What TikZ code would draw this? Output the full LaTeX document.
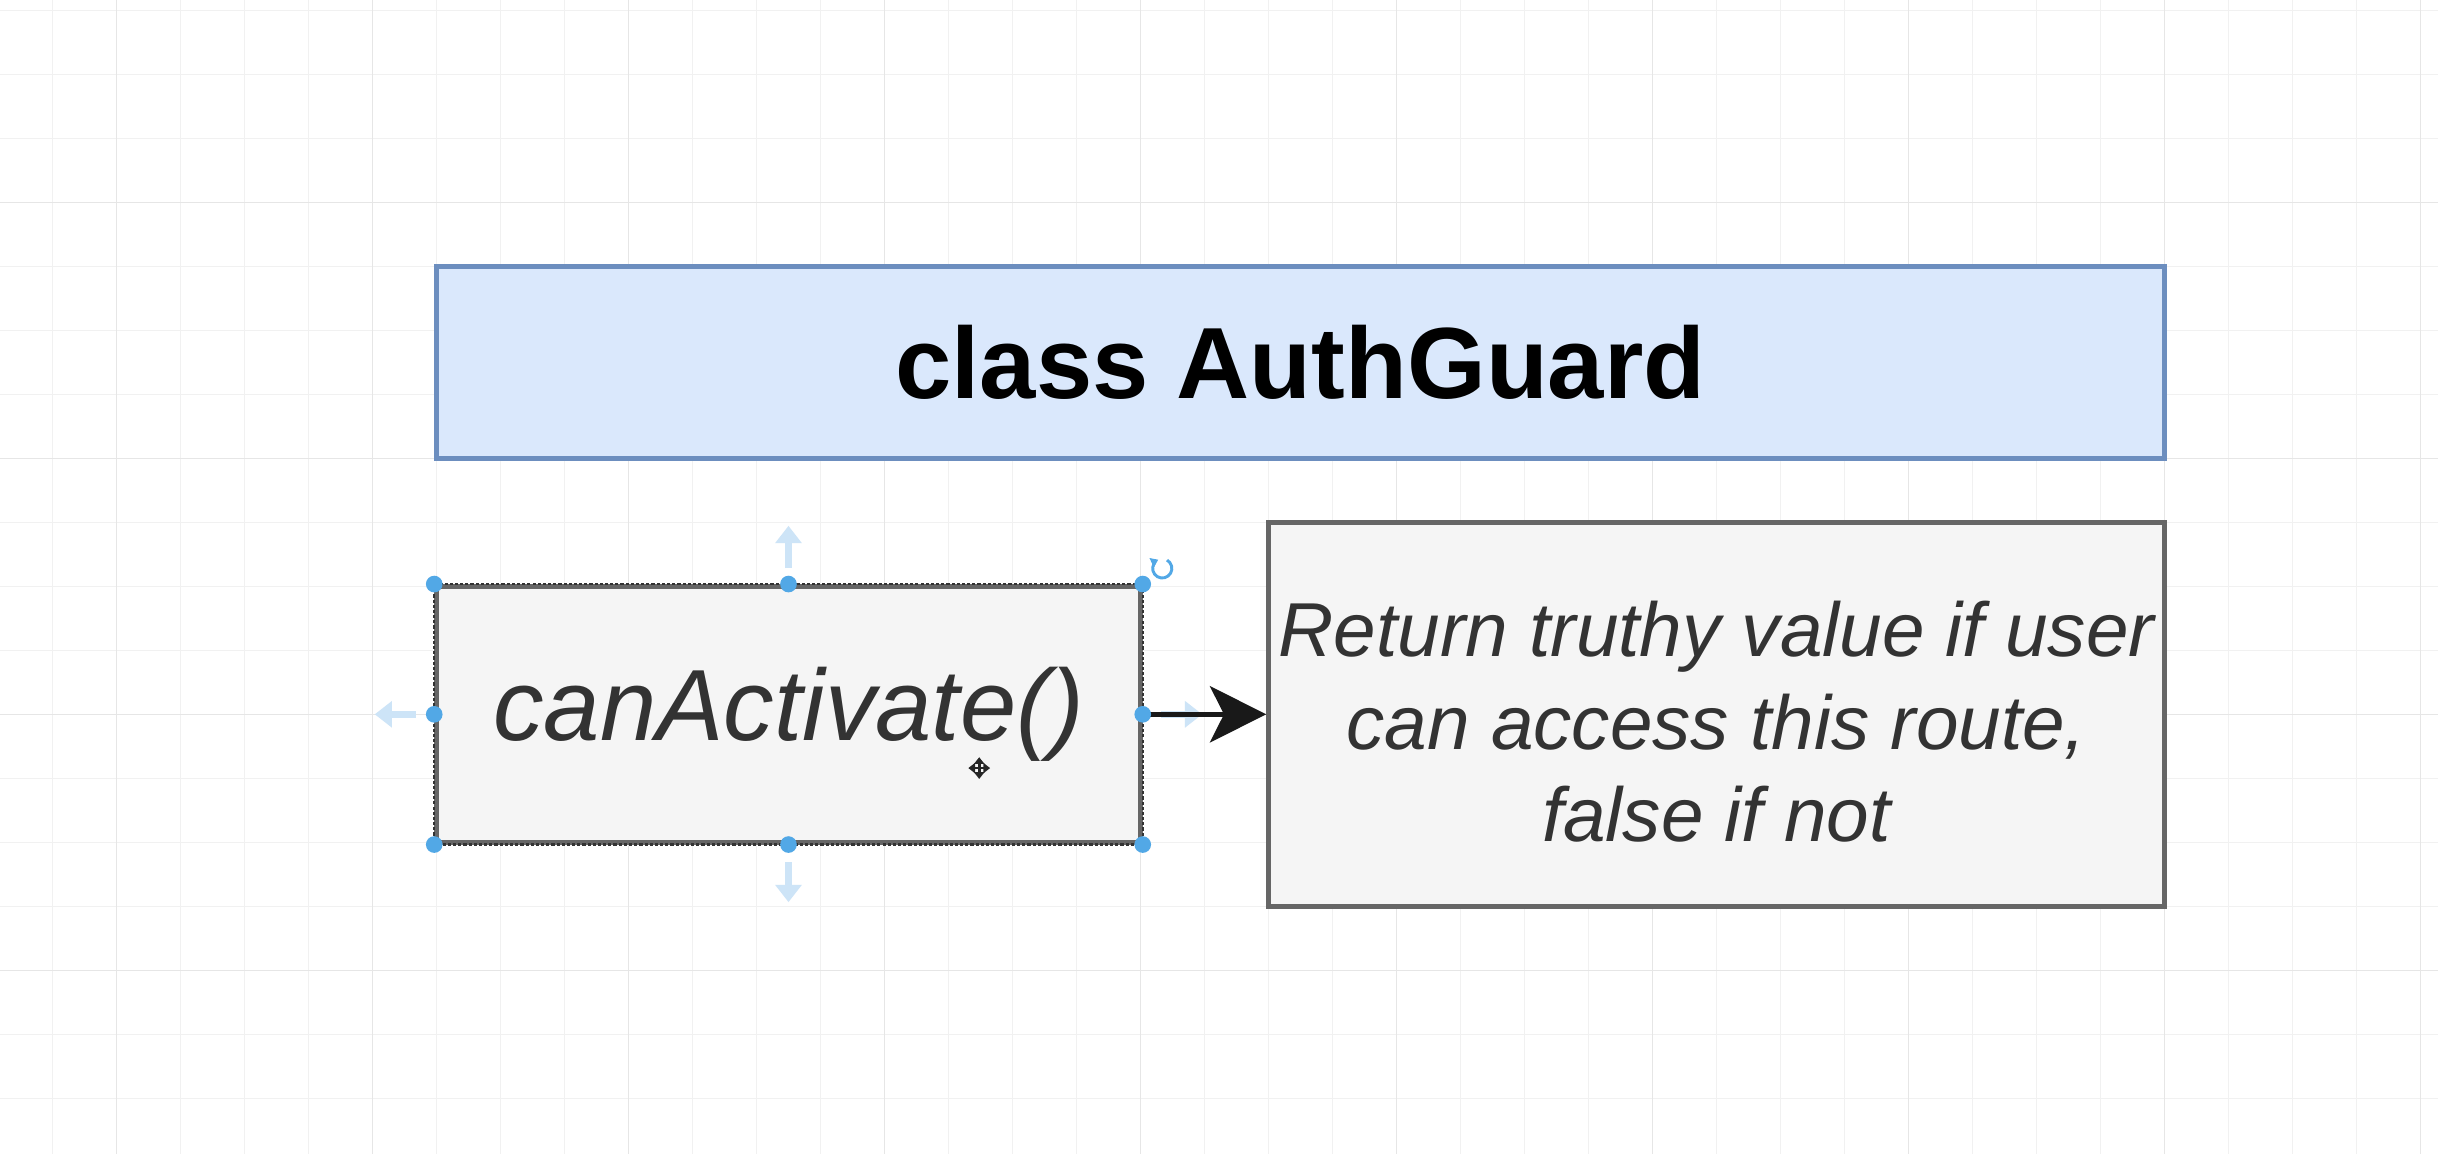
\documentclass[tikz,border=0pt]{standalone}
\usepackage{fontspec}
\setmainfont{Liberation Sans}
\usepackage{xcolor}
\usetikzlibrary{arrows.meta,positioning}

\definecolor{guardfill}{HTML}{DAE8FC}
\definecolor{guardline}{HTML}{6C8EBF}
\definecolor{boxfill}{HTML}{F5F5F5}
\definecolor{boxline}{HTML}{666666}
\definecolor{boxtext}{HTML}{333333}
\definecolor{handleblue}{HTML}{52A8E6}
\definecolor{hoverblue}{HTML}{CDE4F7}
\definecolor{gridminor}{HTML}{F1F1F1}
\definecolor{gridmajor}{HTML}{E6E6E6}

\begin{document}
\begin{tikzpicture}[
  guardbox/.style={draw=guardline,fill=guardfill,line width=2pt,inner sep=0pt,
    minimum width=27cm,minimum height=3cm,font=\bfseries\fontsize{45}{54}\selectfont},
  greybox/.style={draw=boxline,fill=boxfill,line width=2pt,inner sep=0pt,
    text=boxtext,align=center},
  conn/.style={-{Stealth[length=0.88cm,width=0.88cm,inset=0.22cm]},line width=2pt,black!90},
  hoverarrow/.style={hoverblue,line width=3.2pt,-{Triangle[length=0.27cm,width=0.4cm]}},
  handle/.style={fill=handleblue}
]
  \useasboundingbox[fill=white] (-0.82,-0.87) rectangle (37.27375,17.16125);
  % background grid
  \draw[gridminor,line width=0.6pt] (-0.82,-0.87) grid (37.27,17.16);
  \foreach \x in {1,5,...,37} \draw[gridmajor,line width=0.7pt] (\x,-0.87) -- (\x,17.16);
  \foreach \y in {2,6,10,14} \draw[gridmajor,line width=0.7pt] (-0.82,\y) -- (37.27,\y);

  \node[guardbox] (guard) at (19.5,11.5) {class AuthGuard};
  \node[greybox,minimum width=11cm,minimum height=4cm,
    font=\itshape\fontsize{45}{54}\selectfont] (can) at (11.5,6) {canActivate()};
  \node[greybox,minimum width=14cm,minimum height=6cm,
    font=\itshape\fontsize{34}{41}\selectfont] (ret) at (26,6)
    {\rule{0pt}{1.1cm}Return truthy value if user\\can access this route,\\false if not};

  % selection frame
  \draw[boxtext,line width=1pt,dash pattern=on 1.4pt off 0.9pt]
    (can.north west) rectangle (can.south east);

  % hover arrows
  \draw[hoverarrow] ([yshift=0.25cm]can.north) -- ([yshift=0.91cm]can.north);
  \draw[hoverarrow] ([yshift=-0.28cm]can.south) -- ([yshift=-0.9cm]can.south);
  \draw[hoverarrow] ([xshift=-0.29cm]can.west) -- ([xshift=-0.93cm]can.west);
  \draw[hoverarrow] ([xshift=0.29cm]can.east) -- ([xshift=0.93cm]can.east);

  \draw[conn] (can) -- (ret);

  % handles
  \foreach \a in {north west,north,north east,east,south east,south,south west,west}
    \fill[handle] (can.\a) circle (0.13);

  % rotate handle
  \coordinate (rot) at (17.34,8.28);
  \draw[handleblue,line width=1.3pt,-{Triangle[length=3.2pt,width=4.4pt]}]
    ([shift={(60:0.15)}]rot) arc (60:-245:0.15);

  % move cursor
  \coordinate (cur) at (14.48,5.16);
  \draw[black!85,line width=1.2pt,{Triangle[length=3pt,width=4.5pt]}-{Triangle[length=3pt,width=4.5pt]}]
    ([xshift=-0.17cm]cur) -- ([xshift=0.17cm]cur);
  \draw[black!85,line width=1.2pt,{Triangle[length=3pt,width=4.5pt]}-{Triangle[length=3pt,width=4.5pt]}]
    ([yshift=-0.17cm]cur) -- ([yshift=0.17cm]cur);
\end{tikzpicture}
\end{document}
